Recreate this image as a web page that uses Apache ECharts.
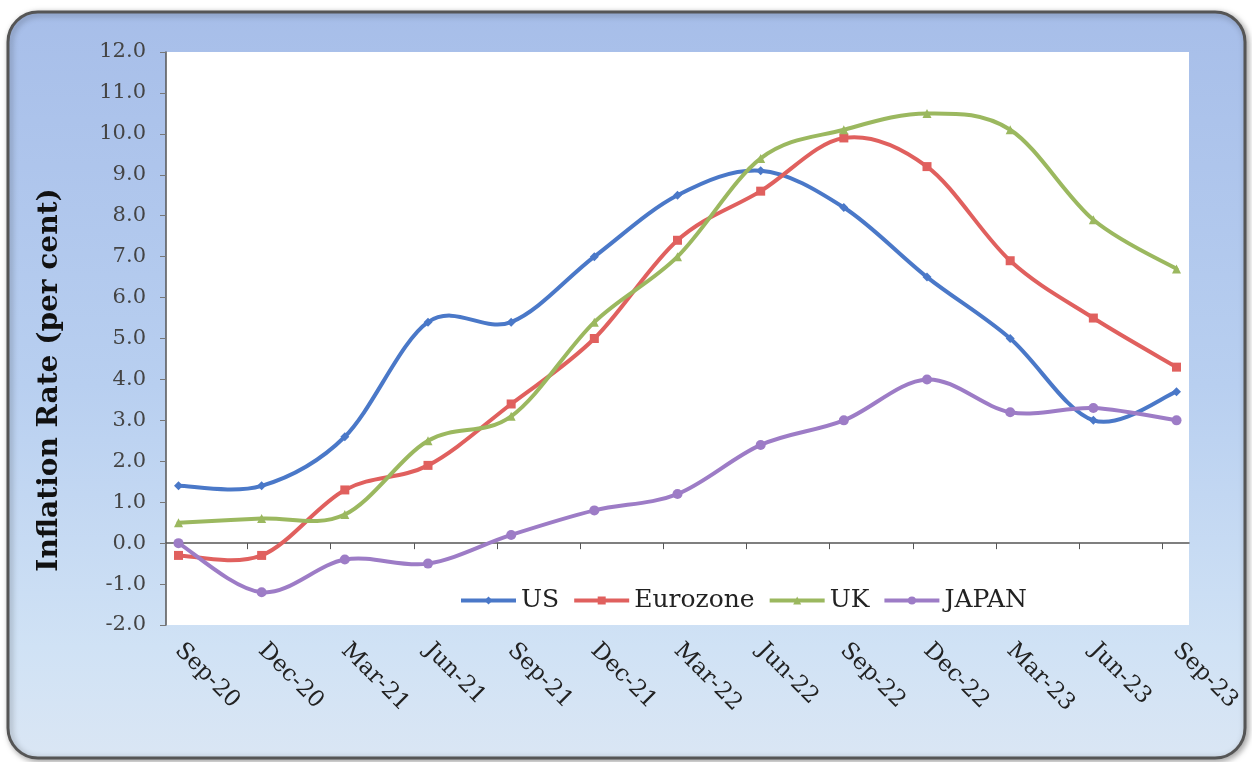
<!DOCTYPE html>
<html>
<head>
<meta charset="utf-8">
<script src="https://cdn.jsdelivr.net/npm/echarts@6/dist/echarts.min.js"></script>
<style>
html,body{margin:0;padding:0;background:#fff;}
#chart{width:1252px;height:762px;}
</style>
</head>
<body>
<div id="chart"></div>
<script>
const categories = ['Sep-20','Dec-20','Mar-21','Jun-21','Sep-21','Dec-21','Mar-22','Jun-22','Sep-22','Dec-22','Mar-23','Jun-23','Sep-23'];
const us       = [1.4, 1.4, 2.6, 5.4, 5.4, 7.0, 8.5, 9.1, 8.2, 6.5, 5.0, 3.0, 3.7];
const eurozone = [-0.3, -0.3, 1.3, 1.9, 3.4, 5.0, 7.4, 8.6, 9.9, 9.2, 6.9, 5.5, 4.3];
const uk       = [0.5, 0.6, 0.7, 2.5, 3.1, 5.4, 7.0, 9.4, 10.1, 10.5, 10.1, 7.9, 6.7];
const japan    = [0.0, -1.2, -0.4, -0.5, 0.2, 0.8, 1.2, 2.4, 3.0, 4.0, 3.2, 3.3, 3.0];
const yTitle = 'Inflation Rate (per cent)';

const idx = categories.map((c, i) => i);
const pairs = arr => arr.map((v, i) => [i, v]);
const serif = '"DejaVu Serif", "Liberation Serif", serif';

const chart = echarts.init(document.getElementById('chart'));

const COLORS = { US: '#4a78c8', Eurozone: '#e0605e', UK: '#9bb85f', JAPAN: '#9d7cc6' };

// markers + legend entry
function markers(name, data, symbol, size) {
  const color = COLORS[name];
  return {
    name, type: 'line', data: pairs(data), smooth: false, z: 4,
    symbol, symbolSize: size, xAxisIndex: 0,
    lineStyle: { color, width: 4, opacity: 0 },
    itemStyle: { color },
    emphasis: { disabled: true }
  };
}
// smoothed curve through the data points (Excel-like Catmull-Rom bezier), drawn via axis scales
function curve(name, data) {
  const color = COLORS[name];
  const n = data.length;
  return {
    name: name + ' curve', type: 'custom', data: pairs(data), z: 3, xAxisIndex: 0,
    encode: { x: 0, y: 1 },
    renderItem: function (params, api) {
      const i = params.dataIndex;
      if (i >= n - 1) return null;
      const P = j => { const k = Math.max(0, Math.min(n - 1, j)); return api.coord([k, data[k]]); };
      const p0 = P(i - 1), p1 = P(i), p2 = P(i + 1), p3 = P(i + 2);
      return {
        type: 'bezierCurve',
        shape: {
          x1: p1[0], y1: p1[1], x2: p2[0], y2: p2[1],
          cpx1: p1[0] + (p2[0] - p0[0]) / 6, cpy1: p1[1] + (p2[1] - p0[1]) / 6,
          cpx2: p2[0] - (p3[0] - p1[0]) / 6, cpy2: p2[1] - (p3[1] - p1[1]) / 6
        },
        style: { stroke: color, lineWidth: 4, fill: null, lineCap: 'round' }
      };
    }
  };
}

chart.setOption({
  animation: false,
  graphic: [
    {
      type: 'rect', z: -10,
      shape: { x: 8, y: 12, width: 1237, height: 746, r: 30 },
      style: {
        fill: new echarts.graphic.LinearGradient(0, 0, 0, 1, [
          { offset: 0, color: '#a7bee9' },
          { offset: 0.5, color: '#b8cff0' },
          { offset: 0.85, color: '#d0e2f5' },
          { offset: 1, color: '#dae6f4' }
        ]),
        stroke: '#555', lineWidth: 3,
        shadowBlur: 6, shadowColor: 'rgba(0,0,0,0.35)', shadowOffsetX: 2, shadowOffsetY: 2
      }
    },
    {
      type: 'text', z: 10,
      x: 50, y: 380, rotation: Math.PI / 2,
      style: {
        text: yTitle, align: 'center', verticalAlign: 'middle',
        font: 'bold 28px "DejaVu Serif", serif', fill: '#111'
      }
    }
  ],
  grid: { left: 166, right: 63, top: 52, bottom: 137, show: true, backgroundColor: '#ffffff', borderWidth: 0 },
  legend: {
    data: Object.keys(COLORS).map(k => ({ name: k, lineStyle: { color: COLORS[k], width: 4, opacity: 1 } })),
    left: 454, top: 583,
    itemWidth: 55, itemHeight: 10, itemGap: 13,
    textStyle: { fontFamily: serif, fontSize: 25, color: '#222' }
  },
  xAxis: [
    {
      type: 'value', min: -0.15, max: 12.15,
      axisLine: { show: true, onZero: true, lineStyle: { color: '#555', width: 1.5 } },
      axisTick: { show: true, inside: false, length: 6, customValues: idx.slice(1).map(i => i - 0.17), lineStyle: { color: '#555' } },
      axisLabel: { show: false },
      splitLine: { show: false }
    },
    {
      type: 'value', min: -0.15, max: 12.15, position: 'bottom',
      axisLine: { show: false, onZero: false },
      axisTick: { show: false },
      splitLine: { show: false },
      axisLabel: {
        customValues: idx, rotate: -45, margin: 22,
        formatter: v => categories[Math.round(v)],
        fontFamily: serif, fontSize: 23, color: '#222'
      }
    }
  ],
  yAxis: {
    type: 'value', min: -2, max: 12, interval: 1,
    axisLine: { show: true, onZero: false, lineStyle: { color: '#555', width: 1.5 } },
    axisTick: { show: true, length: 6, lineStyle: { color: '#777' } },
    splitLine: { show: false },
    axisLabel: {
      formatter: v => v.toFixed(1), margin: 20,
      fontFamily: serif, fontSize: 21, color: '#444'
    }
  },
  series: [
    curve('US', us), curve('Eurozone', eurozone), curve('UK', uk), curve('JAPAN', japan),
    markers('US', us, 'diamond', 9),
    markers('Eurozone', eurozone, 'rect', 9),
    markers('UK', uk, 'triangle', 9),
    markers('JAPAN', japan, 'circle', 10)
  ]
});
</script>
</body>
</html>
